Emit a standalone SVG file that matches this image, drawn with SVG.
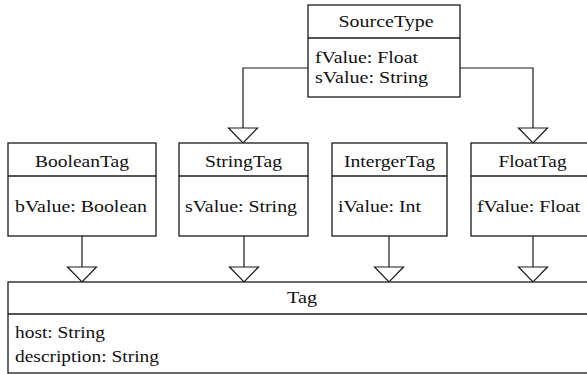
<svg xmlns="http://www.w3.org/2000/svg" width="587" height="374" viewBox="0 0 587 374">
<style>
.box{fill:#fff;stroke:#1a1a1a;stroke-width:1.3}
.div{stroke:#1a1a1a;stroke-width:1.5}
.c{text-anchor:middle}
.ln{fill:none;stroke:#1a1a1a;stroke-width:1.2}
.tri{fill:#fff;stroke:#1a1a1a;stroke-width:1.2}
</style>
<rect width="587" height="374" fill="#fff"/>
<g id="connectors">
<polyline class="ln" points="308,68 243,68 243,128"/>
<polygon class="tri" points="228.5,128 257.5,128 243,143"/>
<polyline class="ln" points="460,68 533,68 533,128"/>
<polygon class="tri" points="518.5,128 547.5,128 533,143"/>
<line class="ln" x1="82" y1="236" x2="82" y2="267"/>
<polygon class="tri" points="67.5,267 96.5,267 82,282"/>
<line class="ln" x1="244" y1="236" x2="244" y2="267"/>
<polygon class="tri" points="229.5,267 258.5,267 244,282"/>
<line class="ln" x1="389" y1="236" x2="389" y2="267"/>
<polygon class="tri" points="374.5,267 403.5,267 389,282"/>
<line class="ln" x1="533" y1="236" x2="533" y2="267"/>
<polygon class="tri" points="518.5,267 547.5,267 533,282"/>
</g>
<g font-family="'Times New Roman', Tinos, 'Liberation Serif', serif" font-size="17.5" fill="#111">
<g id="SourceType">
<rect class="box" x="308" y="5" width="152" height="92"/>
<line class="div" x1="308" y1="38" x2="460" y2="38"/>
<text class="c" x="386" y="27" textLength="95" lengthAdjust="spacingAndGlyphs">SourceType</text>
<text x="315" y="63" textLength="103" lengthAdjust="spacingAndGlyphs">fValue: Float</text>
<text x="315" y="83" textLength="113" lengthAdjust="spacingAndGlyphs">sValue: String</text>
</g>
<g id="BooleanTag">
<rect class="box" x="8" y="143" width="148" height="93"/>
<line class="div" x1="8" y1="176" x2="156" y2="176"/>
<text class="c" x="82" y="167" textLength="94" lengthAdjust="spacingAndGlyphs">BooleanTag</text>
<text x="15" y="212" textLength="132" lengthAdjust="spacingAndGlyphs">bValue: Boolean</text>
</g>
<g id="StringTag">
<rect class="box" x="179" y="143" width="129" height="93"/>
<line class="div" x1="179" y1="176" x2="308" y2="176"/>
<text class="c" x="243.5" y="167" textLength="77" lengthAdjust="spacingAndGlyphs">StringTag</text>
<text x="185" y="212" textLength="112" lengthAdjust="spacingAndGlyphs">sValue: String</text>
</g>
<g id="IntergerTag">
<rect class="box" x="332" y="143" width="115" height="93"/>
<line class="div" x1="332" y1="176" x2="447" y2="176"/>
<text class="c" x="389.5" y="167" textLength="91" lengthAdjust="spacingAndGlyphs">IntergerTag</text>
<text x="338" y="212" textLength="83" lengthAdjust="spacingAndGlyphs">iValue: Int</text>
</g>
<g id="FloatTag">
<rect class="box" x="471" y="143" width="120" height="93"/>
<line class="div" x1="471" y1="176" x2="591" y2="176"/>
<text class="c" x="532.5" y="167" textLength="68" lengthAdjust="spacingAndGlyphs">FloatTag</text>
<text x="477" y="212" textLength="103" lengthAdjust="spacingAndGlyphs">fValue: Float</text>
</g>
<g id="Tag">
<rect class="box" x="8" y="282" width="583" height="91"/>
<line class="div" x1="8" y1="314" x2="591" y2="314"/>
<text class="c" x="302" y="303" textLength="30" lengthAdjust="spacingAndGlyphs">Tag</text>
<text x="15" y="338" textLength="90" lengthAdjust="spacingAndGlyphs">host: String</text>
<text x="15" y="362" textLength="144" lengthAdjust="spacingAndGlyphs">description: String</text>
</g>
</g>
</svg>
